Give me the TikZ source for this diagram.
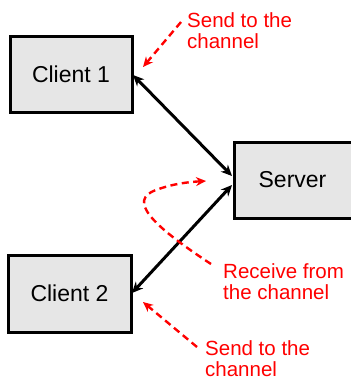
\documentclass[tikz,border=0pt]{standalone}
\usepackage{fontspec}
\setmainfont{Liberation Sans}
\usetikzlibrary{arrows.meta,shadows}
\definecolor{boxgray}{HTML}{E6E6E6}
\definecolor{redline}{HTML}{FF0000}
\tikzset{
  box/.style={draw=black, line width=3pt, fill=boxgray, inner sep=0pt,
    font=\fontsize{23}{26}\selectfont,
    drop shadow={shadow xshift=1.5pt, shadow yshift=-1.5pt, opacity=0.35, fill=black!60}},
  link/.style={line width=3pt, {Stealth[length=11pt,width=10pt]}-{Stealth[length=11pt,width=10pt]}},
  note/.style={redline, line width=2.4pt, dash pattern=on 7pt off 4.5pt, -{Stealth[length=10pt,width=9pt]}},
  lbl/.style={text=redline, font=\fontsize{20.5}{21.5}\selectfont, align=left, anchor=north west, inner sep=0pt}
}
\begin{document}
\begin{tikzpicture}[x=1pt,y=-1pt]
\useasboundingbox (0,0) rectangle (351,381);
\node[box, minimum width=122pt, minimum height=76pt] (c1) at (71,74) {Client 1};
\node[box, minimum width=123pt, minimum height=77pt] (c2) at (69.5,293.5) {Client 2};
\node[box, minimum width=124pt, minimum height=76pt, anchor=west] (srv) at (233,180) {\hspace*{-8pt}Server};
\coordinate (s1) at (232,176);
\coordinate (s2) at (232,185);
\coordinate (c1e) at (133,75);
\coordinate (c2e) at (132,293);
\draw[link] (c1e) -- (s1);
\draw[link] (c2e) -- (s2);
% labels
\node[lbl] (t1) at (187,12) {Send to the\\channel};
\node[lbl] (t2) at (223,263) {Receive from\\the channel};
\node[lbl] (t3) at (205,340) {Send to the\\channel};
\coordinate (a1s) at (181,22);
\coordinate (a1e) at (143,67);
\draw[note] (a1s) -- (a1e);
\coordinate (a3s) at (197,347);
\coordinate (a3e) at (143,302);
\draw[note] (a3s) -- (a3e);
\coordinate (a2s) at (211,264);
\coordinate (a2m) at (156,190);
\coordinate (a2e) at (206,181);
\draw[note] (a2s) .. controls (150,224) and (128,200) .. (a2m) .. controls (172,184) and (188,182) .. (a2e);
\end{tikzpicture}
\end{document}
